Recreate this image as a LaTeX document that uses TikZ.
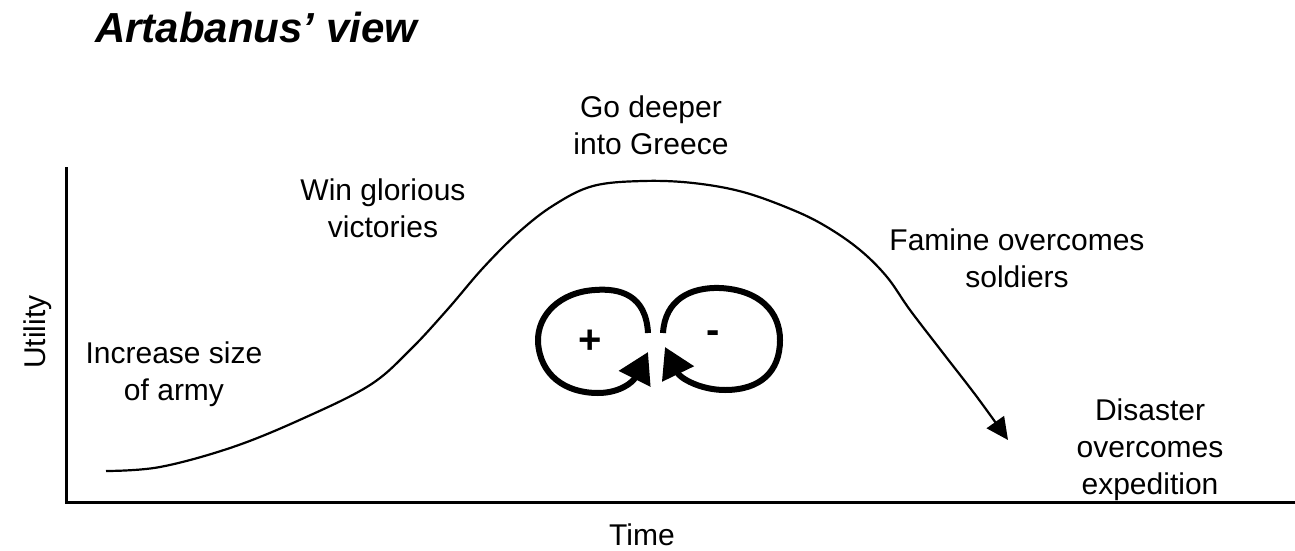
\documentclass[tikz,border=0pt]{standalone}
\usepackage{fontspec}
\setmainfont{Liberation Sans}
\usetikzlibrary{arrows.meta}

\tikzset{
  lbl/.style={font=\fontsize{30}{37}\selectfont, align=center, anchor=base, inner sep=0pt},
  sign/.style={font=\fontsize{40}{40}\selectfont\bfseries, inner sep=0pt},
  axis/.style={line width=3pt},
  path/.style={line width=2.2pt, -{Triangle[length=22pt,width=21pt]}},
  fbloop/.style={line width=6pt, -{Triangle[length=30pt,width=34pt]}},
}

\begin{document}
\begin{tikzpicture}[x=1pt,y=-1pt]
\useasboundingbox (0,0) rectangle (1295,551);

\node[font=\fontsize{42}{48}\selectfont\bfseries\itshape, anchor=base west, inner sep=0pt] (title) at (95,43) {Artabanus’ view};

% axes
\coordinate (top) at (66,167);
\coordinate (orig) at (66,502);
\coordinate (right) at (1295,502);
\draw[axis] (top) -- (orig) -- (right);
\node[lbl, rotate=90] (util) at (45,332) {Utility};
\node[lbl] (time) at (642,545) {Time};

% utility over time
\draw[path] plot[smooth, tension=0.6] coordinates {(106,471) (160,467) (233,447) (304,418) (370,385) (410,350) (447,310) (483,268) (519,232) (554,205) (593,186) (643,181) (693,183) (743,192) (793,210) (827,227) (860,250) (887,277) (910,310) (943,353) (977,397) (1008,440)};

% base is the last line
\node[lbl] (army) at (174,400) {Increase size\\of army};
\node[lbl] (win) at (383,237) {Win glorious\\victories};
\node[lbl] (deeper) at (651,154) {Go deeper\\into Greece};
\node[lbl] (famine) at (1017,287) {Famine overcomes\\soldiers};
\node[lbl] (disaster) at (1150,494) {Disaster\\overcomes\\expedition};

% feedback loops
\draw[fbloop] (648,333) .. controls (646,295) and (620,288) .. (595,290) .. controls (560,292) and (537,315) .. (538,342) .. controls (540,375) and (565,393) .. (598,393) .. controls (620,393) and (633,382) .. (648,352);
\draw[fbloop] (663,333) .. controls (665,300) and (690,287) .. (720,288) .. controls (760,290) and (780,312) .. (780,340) .. controls (780,372) and (760,390) .. (725,390) .. controls (700,390) and (680,378) .. (665,347);
\node[sign] (plus) at (590,342) {+};
\node[sign] (minus) at (713,337) {-};
\end{tikzpicture}
\end{document}
